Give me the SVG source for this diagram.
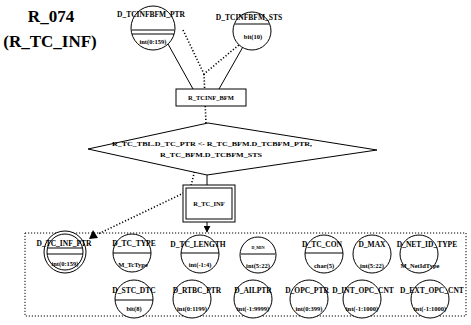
<svg xmlns="http://www.w3.org/2000/svg" width="471" height="325" viewBox="0 0 471 325">
<defs>
<style>
text{font-family:"Liberation Serif","Times New Roman",serif;font-weight:bold;fill:#000;text-anchor:middle}
.t{font-size:17px}
.lb{font-size:7.5px}
.sm{font-size:6.5px}
.st{fill:none;stroke:#000;stroke-width:1}
.dot{fill:none;stroke:#000;stroke-width:1.6;stroke-dasharray:1.2 2}
.ci{fill:#fff;stroke:#000;stroke-width:1}
</style>
<marker id="ah" viewBox="0 0 10 10" refX="9" refY="5" markerWidth="7" markerHeight="7" orient="auto"><path d="M0,0 L10,5 L0,10 z" fill="#000"/></marker>
</defs>
<rect width="471" height="325" fill="#fff"/>
<g id="title">
<text class="t" x="51" y="22">R_074</text>
<text class="t" x="50" y="47">(R_TC_INF)</text>
</g>
<g id="connectors">
<line class="st" x1="168" y1="44" x2="193" y2="89"/>
<line class="st" x1="244" y1="45" x2="219" y2="89"/>
<line class="st" x1="207" y1="175" x2="207" y2="185"/>
<line class="st" x1="207" y1="222" x2="207" y2="232" marker-end="url(#ah)"/>
<polyline class="dot" points="183,30 204,74 240,44"/>
<polyline class="dot" points="204,74 206,124 190,190 98,234"/>
<polygon points="93,230 98,238 89,239" fill="#000"/>
</g>
<g id="D_TCINFBFM_PTR">
<circle class="ci" cx="153" cy="28" r="22"/>
<line class="st" x1="132" y1="30" x2="174" y2="30"/>
<line class="st" x1="132" y1="34" x2="174" y2="34"/>
<text class="lb" x="151" y="17">D_TCINFBFM_PTR</text>
<text class="sm" x="153" y="44">int(0:159)</text>
</g>
<g id="D_TCINFBFM_STS">
<circle class="ci" cx="252" cy="31" r="19"/>
<line class="st" x1="235" y1="24" x2="269" y2="24"/>
<text class="lb" x="249" y="20">D_TCINFBFM_STS</text>
<text class="sm" x="253" y="39">bit(10)</text>
</g>
<g id="R_TCINF_BFM">
<rect class="ci" x="176" y="89" width="70" height="17"/>
<text class="sm" x="211" y="100">R_TCINF_BFM</text>
</g>
<g id="cond">
<polygon class="ci" points="88,149 208,123 377,150 207,175"/>
<text class="sm" x="212" y="146" textLength="200" lengthAdjust="spacingAndGlyphs">R_TC_TBL.D_TC_PTR &lt;- R_TC_BFM.D_TCBFM_PTR,</text>
<text class="sm" x="211" y="157" textLength="102" lengthAdjust="spacingAndGlyphs">R_TC_BFM.D_TCBFM_STS</text>
</g>
<g id="R_TC_INF">
<rect class="ci" x="183" y="185" width="52" height="37"/>
<rect class="st" x="186" y="188" width="46" height="31"/>
<text class="sm" x="209" y="206">R_TC_INF</text>
</g>
<g id="container">
<rect x="25" y="233" width="441" height="83" fill="none" stroke="#000" stroke-width="1" stroke-dasharray="1.2 1.8"/>
</g>
<g id="D_TC_INF_PTR">
<circle class="ci" cx="65" cy="252" r="21"/>
<circle class="st" cx="65" cy="252" r="18"/>
<line class="st" x1="47" y1="248" x2="83" y2="248"/>
<line class="st" x1="47" y1="254" x2="83" y2="254"/>
<text class="lb" x="64" y="246">D_TC_INF_PTR</text>
<text class="sm" x="65" y="266">int(0:159)</text>
</g>
<g id="D_TC_TYPE">
<circle class="ci" cx="132" cy="253" r="19"/>
<line class="st" x1="113" y1="253" x2="151" y2="253"/>
<text class="lb" x="134" y="246">D_TC_TYPE</text>
<text class="sm" x="133" y="267">M_TcType</text>
</g>
<g id="D_TC_LENGTH">
<circle class="ci" cx="200" cy="254" r="19"/>
<line class="st" x1="181" y1="253" x2="219" y2="253"/>
<text class="lb" x="198" y="247">D_TC_LENGTH</text>
<text class="sm" x="200" y="267">int(-1:4)</text>
</g>
<g id="D_MIN">
<circle class="ci" cx="258" cy="255" r="18"/>
<line class="st" x1="241" y1="254" x2="275" y2="254"/>
<text x="258" y="249" style="font-size:4px">D_MIN</text>
<text class="sm" x="258" y="268">int(5:22)</text>
</g>
<g id="D_TC_CON">
<circle class="ci" cx="324" cy="254" r="19"/>
<line class="st" x1="305" y1="253" x2="343" y2="253"/>
<text class="lb" x="322" y="247">D_TC_CON</text>
<text class="sm" x="324" y="268">char(5)</text>
</g>
<g id="D_MAX">
<circle class="ci" cx="372" cy="254" r="19"/>
<text class="lb" x="372" y="247">D_MAX</text>
<text class="sm" x="372" y="268">int(5:22)</text>
</g>
<g id="D_NET_ID_TYPE">
<circle class="ci" cx="419" cy="254" r="19"/>
<text class="lb" x="427" y="247">D_NET_ID_TYPE</text>
<text class="sm" x="420" y="268">M_NetIdType</text>
</g>
<g id="D_STC_DTC">
<circle class="ci" cx="134" cy="299" r="19"/>
<line class="st" x1="115" y1="300" x2="153" y2="300"/>
<text class="lb" x="134" y="293">D_STC_DTC</text>
<text class="sm" x="134" y="311">bit(8)</text>
</g>
<g id="D_RTBC_PTR">
<circle class="ci" cx="192" cy="299" r="19"/>
<text class="lb" x="197" y="293">D_RTBC_PTR</text>
<text class="sm" x="192" y="311">int(0:1199)</text>
</g>
<g id="D_AILPTR">
<circle class="ci" cx="253" cy="299" r="19"/>
<text class="lb" x="253" y="293">D_AILPTR</text>
<text class="sm" x="253" y="311">int(-1:9999)</text>
</g>
<g id="D_OPC_PTR">
<circle class="ci" cx="309" cy="299" r="19"/>
<text class="lb" x="307" y="293">D_OPC_PTR</text>
<text class="sm" x="309" y="311">int(0:399)</text>
</g>
<g id="D_INT_OPC_CNT">
<circle class="ci" cx="362" cy="299" r="19"/>
<text class="lb" x="363" y="293">D_INT_OPC_CNT</text>
<text class="sm" x="362" y="311">int(-1:1000)</text>
</g>
<g id="D_EXT_OPC_CNT">
<circle class="ci" cx="430" cy="299" r="19"/>
<text class="lb" x="432" y="293">D_EXT_OPC_CNT</text>
<text class="sm" x="430" y="311">int(-1:1000)</text>
</g>
</svg>
